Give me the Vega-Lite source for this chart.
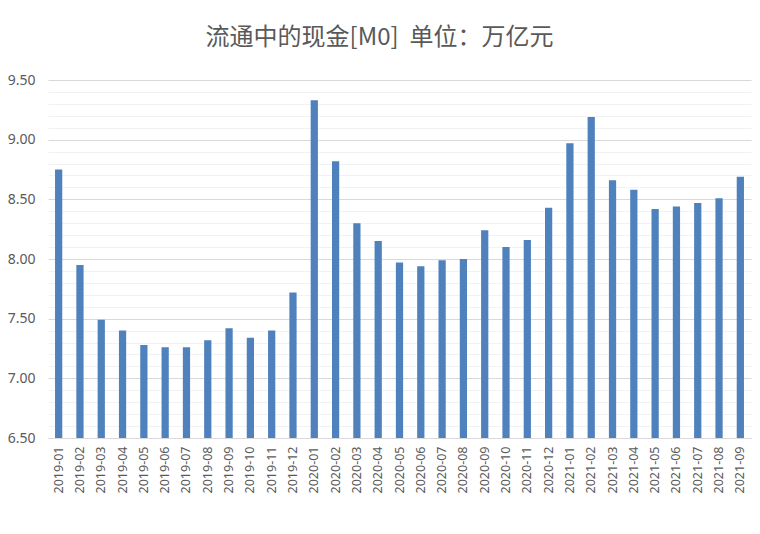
{
  "$schema": "https://vega.github.io/schema/vega-lite/v6.json",
  "autosize": {"type": "none"},
  "width": 703,
  "height": 358,
  "padding": {"left": 48, "top": 80, "right": 9, "bottom": 96},
  "background": "white",
  "title": {
    "text": "流通中的现金[M0]\u00a0\u00a0单位：万亿元",
    "font": "Noto Sans CJK SC",
    "fontSize": 24,
    "fontWeight": "normal",
    "color": "#595959",
    "anchor": "middle",
    "dx": -20,
    "baseline": "alphabetic",
    "offset": 4
  },
  "data": {
    "values": [
      {"month": "2019-01", "value": 8.75},
      {"month": "2019-02", "value": 7.95},
      {"month": "2019-03", "value": 7.49},
      {"month": "2019-04", "value": 7.40},
      {"month": "2019-05", "value": 7.28},
      {"month": "2019-06", "value": 7.26},
      {"month": "2019-07", "value": 7.26},
      {"month": "2019-08", "value": 7.32},
      {"month": "2019-09", "value": 7.42},
      {"month": "2019-10", "value": 7.34},
      {"month": "2019-11", "value": 7.40},
      {"month": "2019-12", "value": 7.72},
      {"month": "2020-01", "value": 9.33},
      {"month": "2020-02", "value": 8.82},
      {"month": "2020-03", "value": 8.30},
      {"month": "2020-04", "value": 8.15},
      {"month": "2020-05", "value": 7.97},
      {"month": "2020-06", "value": 7.94},
      {"month": "2020-07", "value": 7.99},
      {"month": "2020-08", "value": 8.00},
      {"month": "2020-09", "value": 8.24},
      {"month": "2020-10", "value": 8.10},
      {"month": "2020-11", "value": 8.16},
      {"month": "2020-12", "value": 8.43},
      {"month": "2021-01", "value": 8.97},
      {"month": "2021-02", "value": 9.19},
      {"month": "2021-03", "value": 8.66},
      {"month": "2021-04", "value": 8.58},
      {"month": "2021-05", "value": 8.42},
      {"month": "2021-06", "value": 8.44},
      {"month": "2021-07", "value": 8.47},
      {"month": "2021-08", "value": 8.51},
      {"month": "2021-09", "value": 8.69}
    ]
  },
  "mark": {"type": "bar", "color": "#4f81bd", "clip": true},
  "encoding": {
    "x": {
      "field": "month",
      "type": "ordinal",
      "sort": null,
      "scale": {"paddingInner": 0.66, "paddingOuter": 0.33},
      "axis": {
        "title": null,
        "labelAngle": -90,
        "labelFont": "Noto Sans",
        "labelFontSize": 12.5,
        "labelColor": "#595959",
        "labelPadding": 8,
        "ticks": false,
        "domainColor": "#d9d9d9",
        "domainWidth": 1,
        "grid": false
      }
    },
    "y": {
      "field": "value",
      "type": "quantitative",
      "scale": {"domain": [6.5, 9.5], "nice": false, "zero": false},
      "axis": {
        "title": null,
        "values": [6.5, 6.6, 6.7, 6.8, 6.9, 7.0, 7.1, 7.2, 7.3, 7.4, 7.5, 7.6, 7.7, 7.8, 7.9, 8.0, 8.1, 8.2, 8.3, 8.4, 8.5, 8.6, 8.7, 8.8, 8.9, 9.0, 9.1, 9.2, 9.3, 9.4, 9.5],
        "labelExpr": "abs(datum.value*2 - round(datum.value*2)) < 0.01 ? format(datum.value, '.2f') : ''",
        "labelFont": "Noto Sans",
        "labelFontSize": 14,
        "labelColor": "#595959",
        "labelPadding": 13,
        "ticks": false,
        "domain": false,
        "grid": true,
        "gridColor": {
          "condition": {"test": "abs(datum.value*2 - round(datum.value*2)) < 0.01", "value": "#d9d9d9"},
          "value": "#f2f2f2"
        },
        "gridWidth": 1
      }
    }
  },
  "config": {"view": {"stroke": null}}
}
